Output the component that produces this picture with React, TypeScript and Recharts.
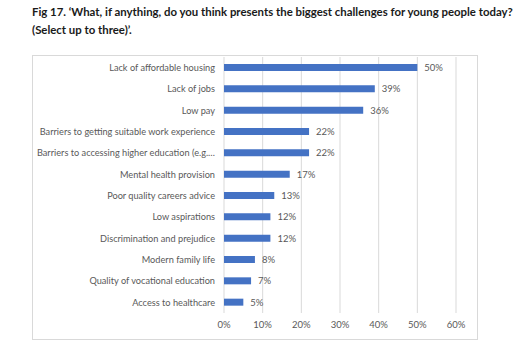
import React from "react";
import { Bar, BarChart, CartesianGrid, LabelList, XAxis, YAxis } from "recharts";

// Survey answers, top to bottom as drawn
const categories = [
  "Lack of affordable housing",
  "Lack of jobs",
  "Low pay",
  "Barriers to getting suitable work experience",
  "Barriers to accessing higher education (e.g.…",
  "Mental health provision",
  "Poor quality careers advice",
  "Low aspirations",
  "Discrimination and prejudice",
  "Modern family life",
  "Quality of vocational education",
  "Access to healthcare",
];
const shares = [50, 39, 36, 22, 22, 17, 13, 12, 12, 8, 7, 5];
const xTicks = [0, 10, 20, 30, 40, 50, 60];

const data = categories.map((name, i) => ({ name, value: shares[i] }));

const font = "Lato, 'Open Sans', sans-serif";
const grey = "#595959";

// one-line category label, right-aligned against the plot
function CategoryTick({ x, y, payload }: any) {
  return (
    <text
      x={x}
      y={y}
      dy="0.35em"
      textAnchor="end"
      fill={grey}
      fontSize={9.2}
      fontFamily={font}
    >
      {payload.value}
    </text>
  );
}

export default function App() {
  return (
    <div
      style={{
        position: "absolute",
        left: 0,
        top: 0,
        width: 518,
        height: 347,
        background: "#fff",
        overflow: "hidden",
        fontFamily: font,
      }}
    >
      <div
        style={{
          position: "absolute",
          left: 32,
          top: 3,
          width: 486,
          fontWeight: 700,
          fontSize: 11.4,
          lineHeight: "18px",
          color: "#1a1a1a",
          whiteSpace: "nowrap",
        }}
      >
        Fig 17. ‘What, if anything, do you think presents the biggest challenges for young people today?
        <br />
        (Select up to three)’.
      </div>
      <div
        style={{
          position: "absolute",
          left: 32,
          top: 55,
          width: 444,
          height: 283,
          border: "1px solid #d9d9d9",
        }}
      />
      <div style={{ position: "absolute", left: 0, top: 0 }}>
        <BarChart
          width={518}
          height={347}
          layout="vertical"
          data={data}
          margin={{ top: 57, right: 62, bottom: 14, left: 0 }}
          barCategoryGap={0}
        >
          <CartesianGrid horizontal={false} stroke="#d9d9d9" />
          <XAxis
            type="number"
            domain={[0, 60]}
            ticks={xTicks}
            tickFormatter={(v) => `${v}%`}
            axisLine={false}
            tickLine={false}
            height={20}
            interval={0}
            tick={{ fill: grey, fontSize: 9.5, fontFamily: font }}
          />
          <YAxis
            type="category"
            dataKey="name"
            width={224}
            axisLine={false}
            tickLine={false}
            interval={0}
            tickMargin={3}
            tick={<CategoryTick />}
          />
          <Bar dataKey="value" fill="#4472c4" barSize={7} isAnimationActive={false}>
            <LabelList
              dataKey="value"
              position="right"
              offset={7}
              formatter={(v: number) => `${v}%`}
              style={{ fill: grey, fontSize: 9.5, fontFamily: font }}
            />
          </Bar>
        </BarChart>
      </div>
    </div>
  );
}
